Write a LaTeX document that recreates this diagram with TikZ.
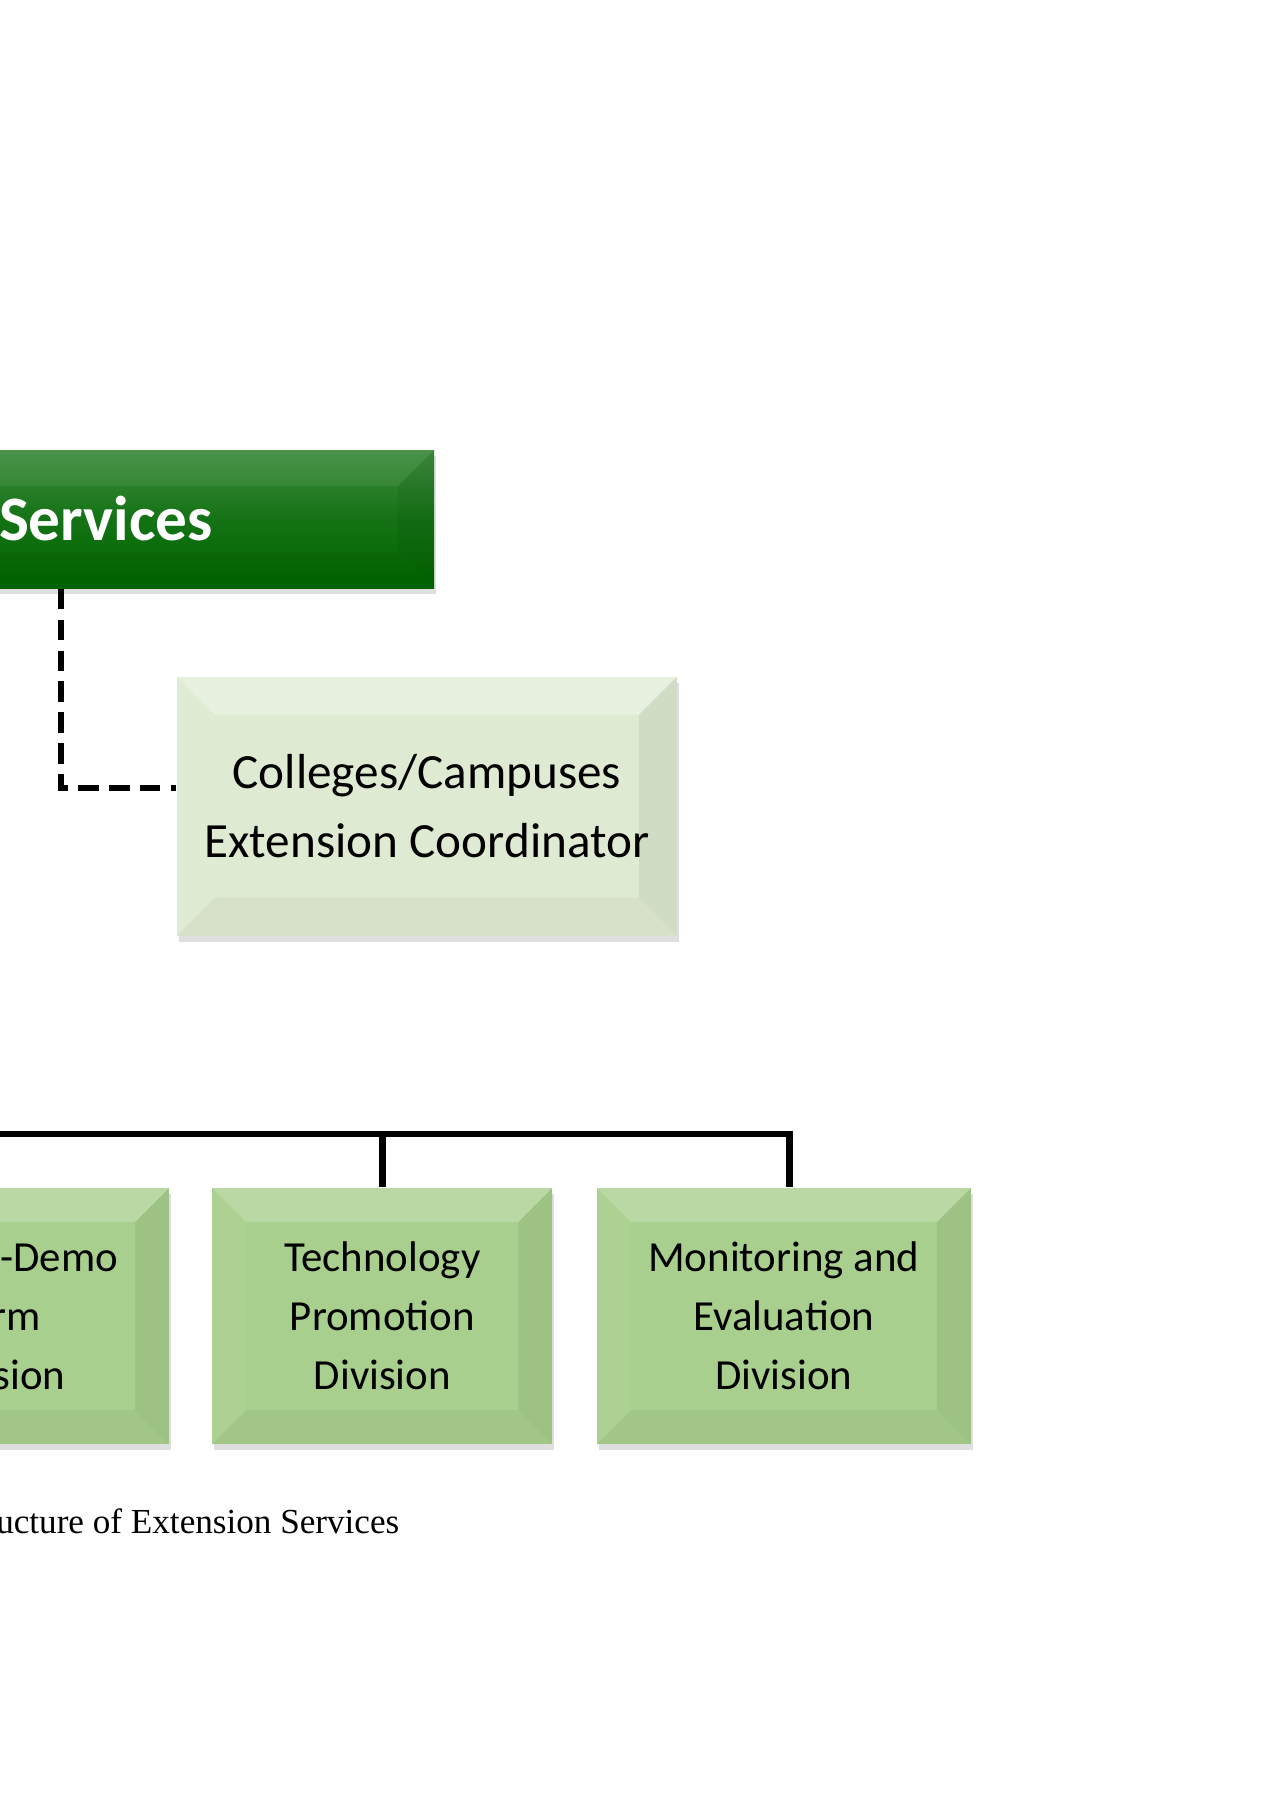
\documentclass[tikz,border=0pt]{standalone}
\usepackage{fontspec}
\usepackage{tikz}
\usetikzlibrary{positioning,shadows}
\newfontfamily\calibri{Carlito}
\newfontfamily\timesf{Liberation Serif}
\definecolor{extgreen}{RGB}{0,102,0}
\definecolor{paleleaf}{RGB}{223,234,211}
\definecolor{divleaf}{RGB}{168,207,141}

\begin{document}
\begin{tikzpicture}[x=0.1mm,y=-0.1mm,
  bevel/.style 2 args={path picture={
    \coordinate (pnw) at (path picture bounding box.north west);
    \coordinate (pse) at (path picture bounding box.south east);
    \coordinate (pne) at (pnw -| pse);
    \coordinate (psw) at (pnw |- pse);
    \fill[white,opacity=#2] (pnw) -- (pne) -- ([shift={(-#1,-#1)}]pne) -- ([shift={(#1,-#1)}]pnw) -- cycle;
    \fill[black,opacity=.04] (psw) -- (pse) -- ([shift={(-#1,#1)}]pse) -- ([shift={(#1,#1)}]psw) -- cycle;
    \fill[white,opacity=.06] (pnw) -- ([shift={(#1,-#1)}]pnw) -- ([shift={(#1,#1)}]psw) -- (psw) -- cycle;
    \fill[black,opacity=.06] (pne) -- ([shift={(-#1,-#1)}]pne) -- ([shift={(-#1,#1)}]pse) -- (pse) -- cycle;
  }},
  topbox/.style={rectangle, top color=extgreen!75!white, bottom color=extgreen,
                 middle color=extgreen!92!white,
                 bevel={3.6mm}{.06}, minimum width=92.6mm, minimum height=13.8mm, text=white,
                 font=\calibri\bfseries\fontsize{18}{22}\selectfont,
                 drop shadow={shadow xshift=0.2mm, shadow yshift=-0.6mm, opacity=.25}},
  coordbox/.style={rectangle, fill=paleleaf, bevel={3.8mm}{.3}, minimum width=50mm, minimum height=25.9mm,
                   align=center, font=\calibri\fontsize{14}{19.4}\selectfont,
                   drop shadow={shadow xshift=0.2mm, shadow yshift=-0.6mm, opacity=.25}},
  divbox/.style={rectangle, fill=divleaf, bevel={3.4mm}{.2}, minimum height=25.6mm,
                 align=center, font=\calibri\fontsize{12.2}{16.8}\selectfont,
                 drop shadow={shadow xshift=0.2mm, shadow yshift=-0.6mm, opacity=.25}},
  busline/.style={line width=1.9pt},
  dashline/.style={line width=1.8pt, dash pattern=on 5.8pt off 3pt},
  capt/.style={font=\timesf\fontsize{10}{12}\selectfont, inner sep=0pt},
  node distance=4.2mm
]
\useasboundingbox (0,0) rectangle (1273,1800);
\clip (0,0) rectangle (1273,1800);

\node[topbox](ext) at (-29,519) {Extension Services};
\node[coordbox](coord) at (427,806) {Colleges/Campuses\\Extension Coordinator};

\node[divbox, minimum width=34.4mm](farm) at (-3,1316) {Techno-Demo\\Farm\\Division};
\node[divbox, minimum width=34mm, right=of farm](tech) {Technology\\Promotion\\Division};
\node[divbox, minimum width=37.4mm, right=4.3mm of tech](mon) {Monitoring and\\Evaluation\\Division};

% dashed link to the coordinator
\coordinate (dk) at (61,788);
\draw[dashline] (dk |- ext.south) |- ([yshift=1.8mm]coord.west);

% bus to the divisions
\coordinate (bus) at (-60,1134);
\draw[busline] (bus) -| ([xshift=0.6mm]mon.north);
\draw[busline] (farm.north |- bus) -- (farm.north);
\draw[busline] (tech.north |- bus) -- (tech.north);

\node[capt, anchor=base east](caption) at (400,1533) {Figure 2: Organizational Structure of Extension Services};
\end{tikzpicture}
\end{document}
